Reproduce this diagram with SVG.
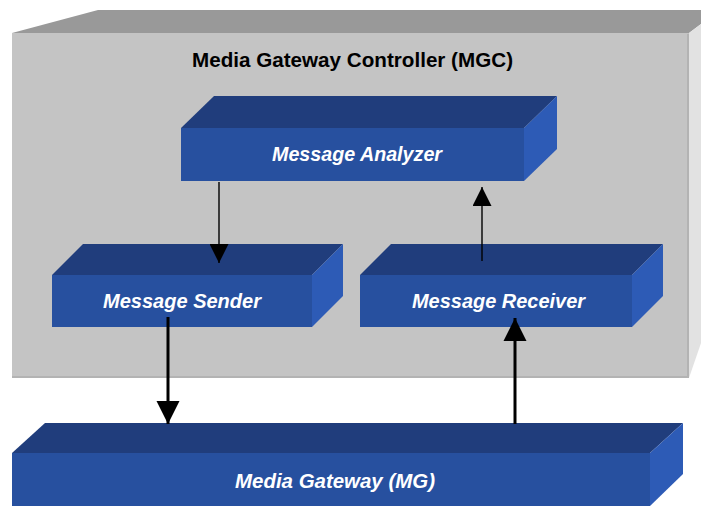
<svg xmlns="http://www.w3.org/2000/svg" width="701" height="506" viewBox="0 0 701 506">
  <style>
    .top { fill: #203d7c; }
    .front { fill: #27509f; }
    .side { fill: #2d5bb6; }
    .lbl { font-family: "Liberation Sans", Arial, sans-serif; font-weight: bold; font-style: italic; font-size: 20px; fill: #ffffff; text-anchor: middle; }
    .title { font-family: "Liberation Sans", Arial, sans-serif; font-weight: bold; font-size: 19.5px; fill: #000000; text-anchor: middle; }
    .thin { stroke: #000; stroke-width: 1.4; fill: none; }
    .thick { stroke: #000; stroke-width: 3; fill: none; }
  </style>
  <defs>
    <marker id="headThin" viewBox="0 0 10 10" refX="10" refY="5" markerUnits="userSpaceOnUse" markerWidth="19" markerHeight="19" orient="auto">
      <path d="M0,0 L10,5 L0,10 Z" fill="#000"/>
    </marker>
    <marker id="headThick" viewBox="0 0 10 10" refX="10" refY="5" markerUnits="userSpaceOnUse" markerWidth="23" markerHeight="24" orient="auto">
      <path d="M0,0 L10,5 L0,10 Z" fill="#000"/>
    </marker>
  </defs>

  <rect width="701" height="506" fill="#ffffff"/>

  <!-- Controller enclosure -->
  <g id="mgc">
    <polygon points="12,33 98,10 701,10 701,24 689,33" fill="#999999"/>
    <polygon points="689,33 701,24 701,343 689,378" fill="#e2e2e2"/>
    <rect x="12" y="33" width="677" height="345" fill="#c4c4c4"/>
    <path d="M688,34 V377 H12" fill="none" stroke="#b3b3b3" stroke-width="2"/>
    <text class="title" x="352.5" y="66.5" textLength="321" lengthAdjust="spacingAndGlyphs">Media Gateway Controller (MGC)</text>
  </g>

  <g id="analyzer">
    <polygon class="top" points="181,128 214,96 557,96 524,128"/>
    <polygon class="side" points="524,128 557,96 557,149 524,181"/>
    <rect class="front" x="181" y="128" width="343" height="53"/>
    <text class="lbl" x="357" y="160.5" textLength="170" lengthAdjust="spacingAndGlyphs">Message Analyzer</text>
  </g>

  <g id="sender">
    <polygon class="top" points="52,275 83,244 343,244 312,275"/>
    <polygon class="side" points="312,275 343,244 343,296 312,327"/>
    <rect class="front" x="52" y="275" width="260" height="52"/>
    <text class="lbl" x="182" y="307.5" textLength="158" lengthAdjust="spacingAndGlyphs">Message Sender</text>
  </g>

  <g id="receiver">
    <polygon class="top" points="360,275 391,244 663,244 632,275"/>
    <polygon class="side" points="632,275 663,244 663,296 632,327"/>
    <rect class="front" x="360" y="275" width="272" height="52"/>
    <text class="lbl" x="498.5" y="307.5" textLength="173" lengthAdjust="spacingAndGlyphs">Message Receiver</text>
  </g>

  <g id="gateway">
    <polygon class="top" points="12,453 45,423 683,423 650,453"/>
    <polygon class="side" points="650,453 683,423 683,474 650,506"/>
    <rect class="front" x="12" y="453" width="638" height="53"/>
    <text class="lbl" x="335" y="488" textLength="200" lengthAdjust="spacingAndGlyphs">Media Gateway (MG)</text>
  </g>

  <!-- Message flow -->
  <g id="connectors">
    <line class="thin" x1="219" y1="182" x2="219" y2="263" marker-end="url(#headThin)"/>
    <line class="thin" x1="482" y1="261" x2="482" y2="187" marker-end="url(#headThin)"/>
    <line class="thick" x1="168" y1="317" x2="168" y2="424" marker-end="url(#headThick)"/>
    <line class="thick" x1="515" y1="424" x2="515" y2="318" marker-end="url(#headThick)"/>
  </g>
</svg>
